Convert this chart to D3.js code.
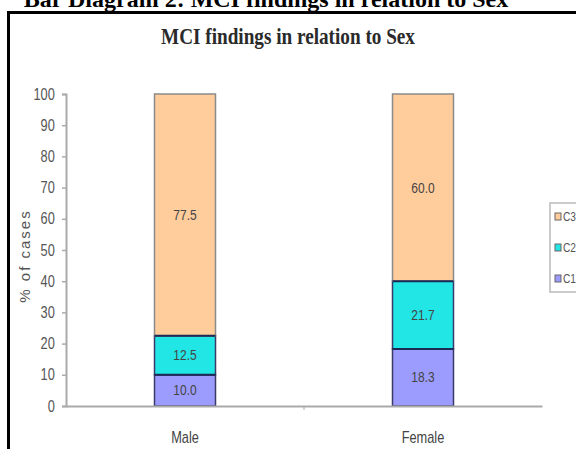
<!DOCTYPE html>
<html><head><meta charset="utf-8">
<script src="https://cdn.jsdelivr.net/npm/d3@7"></script>
<style>html,body{margin:0;padding:0;background:#fff;overflow:hidden}</style>
</head><body>
<svg id="c" width="576" height="449"></svg>
<script>
const categories = ["Male", "Female"];
const seriesNames = ["C1", "C2", "C3"];
const C1 = [10.0, 18.3];
const C2 = [12.5, 21.7];
const C3 = [77.5, 60.0];
const yTicks = [0,10,20,30,40,50,60,70,80,90,100];
const colors = ["#9c9cff", "#22e6e6", "#ffcc9c"];
const series = [C1, C2, C3];
const sans = "Liberation Sans, Arial, sans-serif";

const svg = d3.select("#c");
// document caption (cut at top edge, as in the source)
svg.append("text").attr("x", 266).attr("y", 7).attr("text-anchor","middle")
  .attr("font-family","Liberation Serif, Times New Roman, serif").attr("font-weight","bold")
  .attr("font-size", 24).text("Bar Diagram 2: MCI findings in relation to Sex");
// frame
svg.append("path").attr("d","M8.5,449 V12.5 H576").attr("fill","none").attr("stroke","#000").attr("stroke-width",3);

// chart title
svg.append("text").attr("transform","translate(288,44) scale(0.8,1)").attr("text-anchor","middle")
  .attr("font-family","Liberation Serif, Times New Roman, serif").attr("font-weight","bold")
  .attr("font-size", 24).attr("fill","#2a2a2a")
  .text("MCI findings in relation to Sex");

const x = d3.scaleBand().domain(categories).range([66, 542]).paddingInner(0).paddingOuter(0);
const y = d3.scaleLinear().domain([0,100]).range([406, 94]);
const bw = 61;

const stack = d3.stack().keys([0,1,2]).value((d,k)=>series[k][d]);
const stacked = stack(categories.map((c,i)=>i));

const g = svg.append("g");
stacked.forEach((layer, k) => {
  layer.forEach((d, i) => {
    const cx = x(categories[i]) + x.bandwidth()/2;
    g.append("rect").attr("x", cx - bw/2).attr("width", bw)
      .attr("y", y(d[1])).attr("height", y(d[0]) - y(d[1]))
      .attr("fill", colors[k]).attr("stroke", k===2 ? "#8a8a8a" : "#3a3a6a").attr("stroke-width", 1.5);
  });
});
// separator lines between segments (dark)
[0,1].forEach(k => stacked[k].forEach((d,i)=>{
  const cx = x(categories[i]) + x.bandwidth()/2;
  g.append("line").attr("x1", cx-bw/2).attr("x2", cx+bw/2).attr("y1", y(d[1])).attr("y2", y(d[1]))
    .attr("stroke","#1a2a55").attr("stroke-width",2);
}));
stacked.forEach((layer, k) => {
  layer.forEach((d, i) => {
    const cx = x(categories[i]) + x.bandwidth()/2;
    const cy = (y(d[0])+y(d[1]))/2 + 5;
    g.append("text").attr("transform", `translate(${cx},${cy}) scale(0.8,1)`)
      .attr("text-anchor","middle").attr("font-family", sans)
      .attr("font-size", 15).attr("fill","#444")
      .text(series[k][i].toFixed(1));
  });
});

// y axis
const yAxis = d3.axisLeft(y).tickValues(yTicks).tickSize(4).tickPadding(10);
const ya = svg.append("g").attr("transform","translate(66,0)").call(yAxis);
ya.select(".domain").attr("stroke","#aaa").attr("stroke-width",2);
ya.selectAll(".tick line").attr("stroke","#aaa").attr("stroke-width",1.5);
ya.selectAll(".tick text").attr("font-family", sans).attr("transform","scale(0.8,1)")
  .attr("font-size",16).attr("fill","#555");

// x axis
const xAxis = d3.axisBottom(x).tickSize(0).tickPadding(26);
const xa = svg.append("g").attr("transform","translate(0,406)").call(xAxis);
xa.select(".domain").attr("stroke","#aaa").attr("stroke-width",2);
xa.selectAll(".tick").each(function(){
  const t = d3.select(this).select("text");
  t.attr("transform","scale(0.8,1)");
});
xa.selectAll(".tick").attr("transform", d => `translate(${x(d)+x.bandwidth()/2},0)`);
xa.selectAll(".tick text").attr("font-family", sans).attr("font-size",16).attr("fill","#444");
xa.append("line").attr("x1",304).attr("x2",304).attr("y1",0).attr("y2",4).attr("stroke","#aaa");

// y label
svg.append("text").attr("transform","translate(30,256) rotate(-90)").attr("text-anchor","middle")
  .attr("font-family", sans).attr("font-size",15).attr("letter-spacing",2).attr("fill","#555")
  .text("% of cases");

// legend
const lg = svg.append("g");
lg.append("rect").attr("x",550).attr("y",203).attr("width",40).attr("height",89)
  .attr("fill","#fff").attr("stroke","#bbb").attr("stroke-width",1.5);
const legendOrder = [2,1,0];
legendOrder.forEach((k, j) => {
  const ly = 217 + j*31;
  lg.append("rect").attr("x",555).attr("y",ly-4).attr("width",6).attr("height",7)
    .attr("fill",colors[k]).attr("stroke","#666").attr("stroke-width",1);
  lg.append("text").attr("transform",`translate(563,${ly+4}) scale(0.85,1)`).attr("font-family", sans)
    .attr("font-size",12).attr("fill","#555").text(seriesNames[k]);
});
</script>
</body></html>
